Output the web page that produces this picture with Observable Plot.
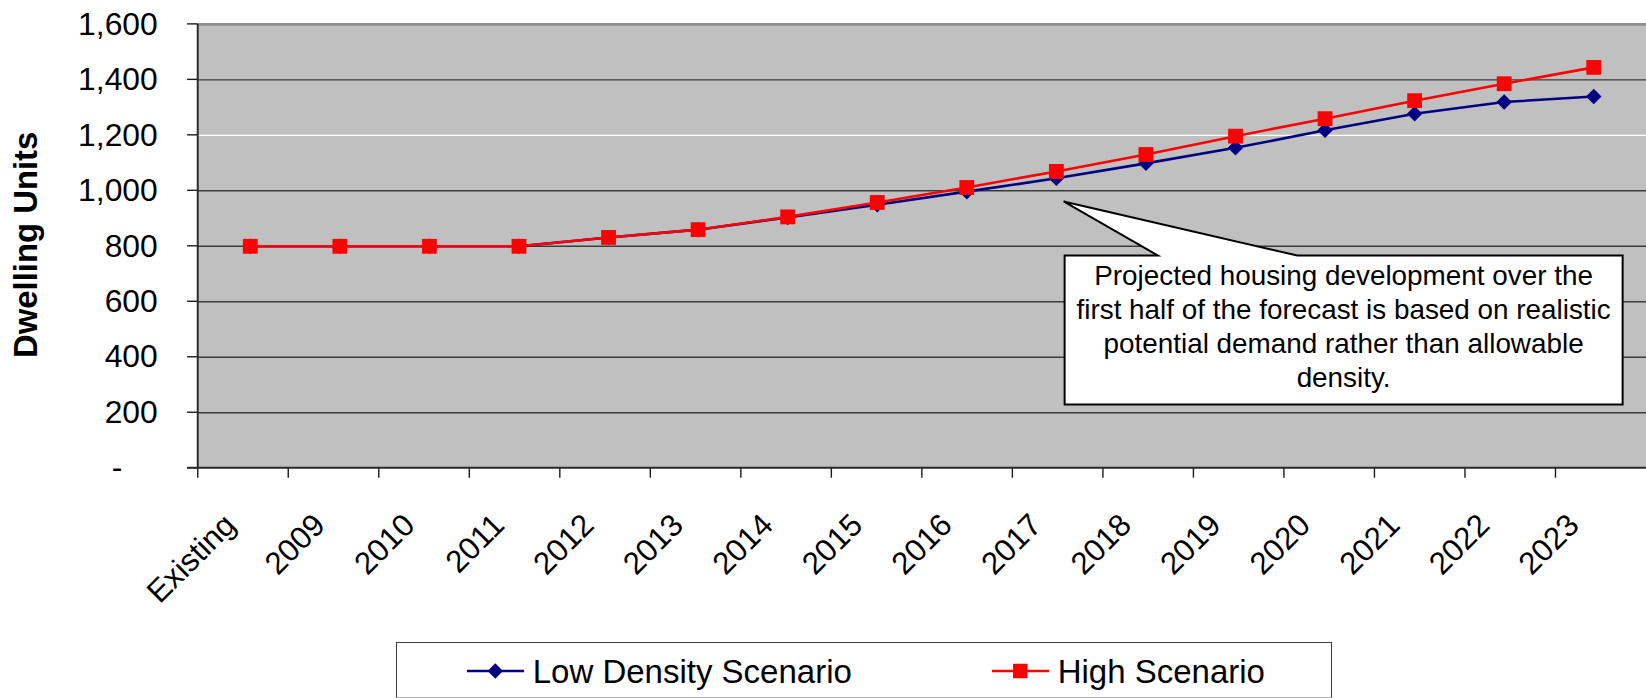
<!DOCTYPE html>
<html>
<head>
<meta charset="utf-8">
<script src="https://cdn.jsdelivr.net/npm/d3@7"></script>
<script src="https://cdn.jsdelivr.net/npm/@observablehq/plot@0.6"></script>
<style>
  html, body { margin: 0; padding: 0; background: #fff; overflow: hidden; }
  #wrap { position: relative; width: 1646px; height: 698px; overflow: hidden;
          font-family: "Liberation Sans", Arial, sans-serif; }
  #chart svg { display: block; }
  #legend { position: absolute; left: 396px; top: 642px; width: 936px; height: 56px;
            box-sizing: border-box; border: 1.5px solid #3a3a3a; border-bottom-color: #b0b0b0;
            background: #fff; }
  #legend svg { position: absolute; left: 0; top: 0; overflow: visible; }
</style>
</head>
<body>
<div id="wrap">
  <div id="chart"></div>
  <div id="legend"></div>
</div>
<script>
// Forecast categories and dwelling-unit counts per scenario
const categories = ["Existing", "2009", "2010", "2011", "2012", "2013", "2014", "2015",
                    "2016", "2017", "2018", "2019", "2020", "2021", "2022", "2023"];
const lowDensity   = [800, 800, 800, 800, 832, 860, 904, 950, 997, 1045, 1099, 1155, 1218, 1278, 1320, 1340];
const highScenario = [800, 800, 800, 800, 832, 860, 906, 958, 1012, 1070, 1131, 1197, 1260, 1325, 1386, 1445];

const seriesNames  = ["Low Density Scenario", "High Scenario"];
const seriesColors = ["#000080", "#ff0000"];

const yTicks      = [0, 200, 400, 600, 800, 1000, 1200, 1400, 1600];
const yTickLabels = ["-\u2007\u2007", "200", "400", "600", "800", "1,000", "1,200", "1,400", "1,600"];
const yAxisTitle  = "Dwelling Units";

// Callout text and the point it refers to
const noteLines  = ["Projected housing development over the",
                    "first half of the forecast is based on realistic",
                    "potential demand rather than allowable",
                    "density."];
const noteTarget = {category: "2017", value: 960};

const FONT = '"Liberation Sans", Arial, sans-serif';
const rows = vals => categories.map((c, i) => ({category: c, value: vals[i]}));
const low = rows(lowDensity);
const high = rows(highScenario);
const tickRows = yTicks.map((v, i) => ({v, label: yTickLabels[i]}));

const W = 1654, H = 642, AXIS_Y = 470;

const plot = Plot.plot({
  width: W,
  height: H,
  marginLeft: 198.7,
  marginRight: 0,
  marginTop: 24,
  marginBottom: H - AXIS_Y,
  style: {fontFamily: FONT, background: "none", color: "#000"},
  x: {type: "band", domain: categories, padding: 0, axis: null},
  y: {domain: [0, 1600], axis: null},
  marks: [
    Plot.frame({fill: "#c0c0c0", stroke: "none"}),
    Plot.ruleY(yTicks.filter(v => v > 0 && v < 1600 && v !== 1200), {stroke: "#3c3c3c", strokeWidth: 1.4}),
    Plot.ruleY([1200], {stroke: "#ffffff", strokeWidth: 1.4}),
    Plot.ruleY([1600], {stroke: "#8c8c8c", strokeWidth: 3}),
    Plot.line(low, {x: "category", y: "value", stroke: seriesColors[0], strokeWidth: 2.6}),
    Plot.dot(low, {x: "category", y: "value", symbol: "diamond2", r: 7, fill: seriesColors[0], stroke: "none"}),
    Plot.line(high, {x: "category", y: "value", stroke: seriesColors[1], strokeWidth: 2.6}),
    Plot.dot(high, {x: "category", y: "value", symbol: "square", r: 8.4, fill: seriesColors[1], stroke: "none"}),
    Plot.text(tickRows, {y: "v", text: "label", frameAnchor: "left", dx: -40.7,
                         textAnchor: "end", fontSize: 32, fill: "#000"}),
    Plot.text(categories, {x: d => d, text: d => d, frameAnchor: "bottom", rotate: -45,
                           textAnchor: "end", lineAnchor: "bottom", dx: -13, dy: 59,
                           fontSize: 31.5, fill: "#000"}),
    Plot.text([yAxisTitle], {text: d => d, frameAnchor: "left", dx: -172.7, dy: -1.5, rotate: -90,
                             textAnchor: "middle", fontWeight: "bold", fontSize: 33, fill: "#000"})
  ]
});
document.getElementById("chart").appendChild(plot);

// Axis lines, tick marks and the callout, positioned through the plot's scales
const sx = plot.scale("x"), sy = plot.scale("y");
const xs = d3.scaleBand(sx.domain, sx.range).padding(0);
const ys = d3.scaleLinear(sy.domain, sy.range);
const x0 = xs.range()[0], x1 = xs.range()[1];
const yb = ys(0), yt = ys(1600);
const svg = d3.select(plot);
const g = svg.append("g");

g.selectAll(null).data(yTicks).join("line")
  .attr("x1", x0 - 10.7).attr("x2", x0)
  .attr("y1", d => ys(d)).attr("y2", d => ys(d))
  .attr("stroke", "#1a1a1a").attr("stroke-width", 1.4);
g.selectAll(null).data(categories).join("line")
  .attr("x1", d => xs(d)).attr("x2", d => xs(d))
  .attr("y1", yb).attr("y2", yb + 10)
  .attr("stroke", "#1a1a1a").attr("stroke-width", 1.4);
g.append("line").attr("x1", x0).attr("x2", x0).attr("y1", yt).attr("y2", yb)
  .attr("stroke", "#2a2a2a").attr("stroke-width", 2);
g.append("line").attr("x1", x0 - 10.7).attr("x2", x1).attr("y1", yb).attr("y2", yb)
  .attr("stroke", "#2a2a2a").attr("stroke-width", 2.2);

const cx = c => xs(c) + xs.bandwidth() / 2;
const tipX = cx(noteTarget.category) + 6, tipY = ys(noteTarget.value);
const bl = cx(noteTarget.category) + 7, br = cx(categories[categories.length - 1]) + 22;
const bt = ys(765), bb = ys(228);
const callout = g.append("g");
callout.append("path")
  .attr("d", `M${bl},${bt}L${bl + 93.7},${bt}L${tipX},${tipY}L${bl + 233.8},${bt}L${br},${bt}L${br},${bb}L${bl},${bb}Z`)
  .attr("fill", "#fff").attr("stroke", "#000").attr("stroke-width", 2).attr("stroke-linejoin", "miter");
callout.append("text")
  .attr("font-family", FONT).attr("font-size", 28).attr("text-anchor", "middle").attr("fill", "#000")
  .selectAll("tspan").data(noteLines).join("tspan")
  .attr("x", (bl + br) / 2)
  .attr("y", (d, i) => bt + 29.7 + i * 34.2)
  .text(d => d);

// Legend below the chart
const lg = d3.select("#legend").append("svg").attr("width", 936).attr("height", 56);
const items = [
  {name: seriesNames[0], color: seriesColors[0], symbol: d3.symbolDiamond2, size: 150, x: 70},
  {name: seriesNames[1], color: seriesColors[1], symbol: d3.symbolSquare, size: 210, x: 595}
];
const li = lg.selectAll("g").data(items).join("g").attr("transform", d => `translate(${d.x},0)`);
li.append("line").attr("x1", 0).attr("x2", 57).attr("y1", 28).attr("y2", 28)
  .attr("stroke", d => d.color).attr("stroke-width", 2.6);
li.append("path").attr("d", d => d3.symbol(d.symbol, d.size)())
  .attr("transform", "translate(28.3,28)").attr("fill", d => d.color);
li.append("text").attr("x", 65.7).attr("y", 39.5)
  .attr("font-family", FONT).attr("font-size", 33).attr("fill", "#000")
  .text(d => d.name);
</script>
</body>
</html>
